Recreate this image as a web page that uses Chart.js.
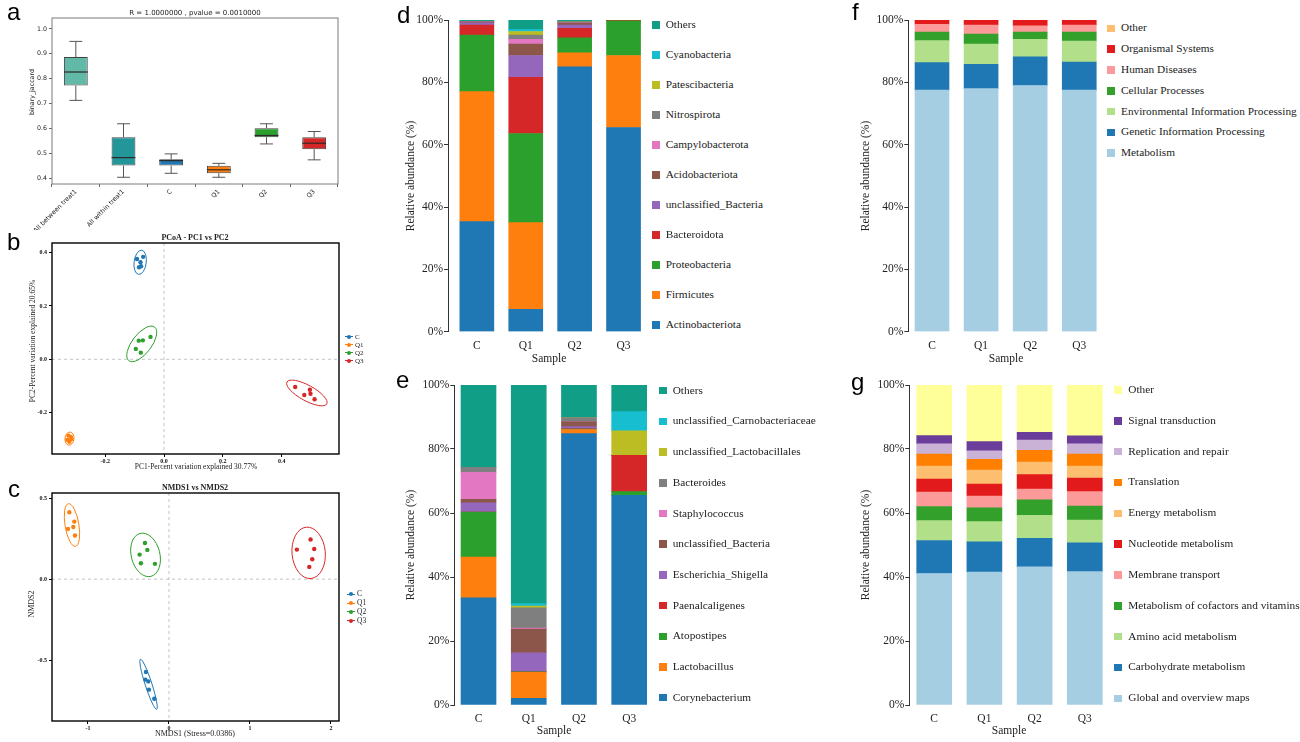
<!DOCTYPE html>
<html><head><meta charset="utf-8">
<script src="https://cdn.jsdelivr.net/npm/chart.js@4.4.1/dist/chart.umd.min.js"></script>
<style>
body{margin:0;background:#fff;}
#page{position:relative;width:1300px;height:742px;overflow:hidden;font-family:'Liberation Serif','Times New Roman',serif;color:#222;background:#fff;}
.box{position:absolute;}
.txt{position:absolute;white-space:nowrap;line-height:1;}
.lt{position:absolute;font-family:'Liberation Sans',Arial,sans-serif;font-size:24px;line-height:24px;color:#000;}
</style></head><body><div id="page">
<div class="box" style="left:0;top:0;width:345px;height:230px"><canvas id="ca"></canvas></div>
<div class="box" style="left:0;top:228px;width:345px;height:245px"><canvas id="cb"></canvas></div>
<div class="box" style="left:0;top:478px;width:345px;height:264px"><canvas id="cc"></canvas></div>
<div class="box" style="left:395px;top:0;width:255px;height:370px"><canvas id="cd"></canvas></div>
<div class="box" style="left:395px;top:370px;width:262px;height:372px"><canvas id="ce"></canvas></div>
<div class="box" style="left:850px;top:0;width:256px;height:370px"><canvas id="cf"></canvas></div>
<div class="box" style="left:850px;top:370px;width:262px;height:372px"><canvas id="cg"></canvas></div>
</div>
<script>
// ---------------- DATA ----------------
const samples = ['C', 'Q1', 'Q2', 'Q3'];

// panel a: ANOSIM boxplot (binary_jaccard)
const boxCats = ['All between treat1', 'All within treat1', 'C', 'Q1', 'Q2', 'Q3'];
const boxMin = [0.713, 0.404, 0.420, 0.404, 0.538, 0.474];
const boxQ1  = [0.773, 0.451, 0.451, 0.420, 0.565, 0.517];
const boxMed = [0.827, 0.483, 0.471, 0.434, 0.572, 0.541];
const boxQ3  = [0.887, 0.565, 0.476, 0.450, 0.601, 0.565];
const boxMax = [0.950, 0.619, 0.498, 0.460, 0.619, 0.588];
const boxYTicks = [0.4, 0.5, 0.6, 0.7, 0.8, 0.9, 1.0];

// panel b: PCoA
const pcoaCx  = [-0.092, -0.071, -0.080, -0.085, -0.078];
const pcoaCy  = [0.376, 0.384, 0.364, 0.345, 0.349];
const pcoaQ1x = [-0.325, -0.317, -0.329, -0.315, -0.322];
const pcoaQ1y = [-0.286, -0.291, -0.302, -0.299, -0.309];
const pcoaQ2x = [-0.046, -0.072, -0.086, -0.096, -0.079];
const pcoaQ2y = [0.084, 0.071, 0.070, 0.039, 0.025];
const pcoaQ3x = [0.446, 0.496, 0.477, 0.498, 0.512];
const pcoaQ3y = [-0.104, -0.114, -0.134, -0.129, -0.150];
const pcoaTicks = [-0.2, 0.0, 0.2, 0.4];

// panel c: NMDS
const nmdsCx  = [-0.284, -0.292, -0.255, -0.247, -0.181];
const nmdsCy  = [-0.574, -0.621, -0.632, -0.683, -0.739];
const nmdsQ1x = [-1.230, -1.169, -1.181, -1.247, -1.160];
const nmdsQ1y = [0.414, 0.356, 0.323, 0.311, 0.270];
const nmdsQ2x = [-0.296, -0.267, -0.362, -0.346, -0.173];
const nmdsQ2y = [0.224, 0.181, 0.152, 0.099, 0.095];
const nmdsQ3x = [1.749, 1.580, 1.794, 1.770, 1.733];
const nmdsQ3y = [0.245, 0.183, 0.187, 0.123, 0.076];
const nmdsXTicks = [-1, 0, 1, 2];
const nmdsYTicks = [-0.5, 0.0, 0.5];

// panel d: phylum relative abundance (%), bottom -> top
const phylumNames = ['Actinobacteriota', 'Firmicutes', 'Proteobacteria', 'Bacteroidota', 'unclassified_Bacteria', 'Acidobacteriota', 'Campylobacterota', 'Nitrospirota', 'Patescibacteria', 'Cyanobacteria', 'Others'];
const phylumC  = [35.3, 41.7, 18.2, 3.2, 0.7, 0.3, 0.1, 0.1, 0.0, 0.0, 0.4];
const phylumQ1 = [7.2, 27.8, 28.6, 18.0, 7.0, 3.7, 1.5, 1.4, 1.1, 0.7, 3.0];
const phylumQ2 = [85.0, 4.5, 4.8, 3.0, 1.1, 0.7, 0.1, 0.3, 0.0, 0.0, 0.5];
const phylumQ3 = [65.5, 23.1, 11.1, 0.2, 0.0, 0.0, 0.0, 0.0, 0.0, 0.0, 0.1];

// panel e: genus relative abundance (%), bottom -> top
const genusNames = ['Corynebacterium', 'Lactobacillus', 'Atopostipes', 'Paenalcaligenes', 'Escherichia_Shigella', 'unclassified_Bacteria', 'Staphylococcus', 'Bacteroides', 'unclassified_Lactobacillales', 'unclassified_Carnobacteriaceae', 'Others'];
const genusC  = [33.5, 12.7, 14.1, 0.0, 2.9, 1.1, 8.4, 1.6, 0.0, 0.0, 25.7];
const genusQ1 = [2.1, 8.1, 0.2, 0.0, 5.9, 7.4, 0.3, 6.4, 0.5, 0.8, 68.3];
const genusQ2 = [84.8, 1.3, 0.1, 0.1, 0.7, 1.5, 0.0, 1.3, 0.0, 0.0, 10.2];
const genusQ3 = [65.5, 0.0, 1.2, 11.3, 0.0, 0.0, 0.0, 0.0, 7.7, 6.0, 8.3];

// panel f: KEGG level 1 (%), bottom -> top
const kegg1Names = ['Metabolism', 'Genetic Information Processing', 'Environmental Information Processing', 'Cellular Processes', 'Human Diseases', 'Organismal Systems', 'Other'];
const kegg1C  = [77.5, 8.8, 7.1, 2.7, 2.5, 1.3, 0.1];
const kegg1Q1 = [78.0, 7.8, 6.5, 3.2, 2.9, 1.5, 0.1];
const kegg1Q2 = [79.0, 9.2, 5.6, 2.3, 2.0, 1.8, 0.1];
const kegg1Q3 = [77.5, 9.0, 6.7, 2.9, 2.3, 1.5, 0.1];

// panel g: KEGG level 2 (%), bottom -> top
const kegg2Names = ['Global and overview maps', 'Carbohydrate metabolism', 'Amino acid metabolism', 'Metabolism of cofactors and vitamins', 'Membrane transport', 'Nucleotide metabolism', 'Energy metabolism', 'Translation', 'Replication and repair', 'Signal transduction', 'Other'];
const kegg2C  = [41.1, 10.3, 6.2, 4.4, 4.5, 4.1, 4.1, 3.7, 3.2, 2.6, 15.8];
const kegg2Q1 = [41.5, 9.5, 6.3, 4.3, 3.7, 3.7, 4.4, 3.4, 2.6, 2.9, 17.7];
const kegg2Q2 = [43.2, 8.9, 7.2, 4.8, 3.4, 4.5, 3.9, 3.7, 3.2, 2.4, 14.8];
const kegg2Q3 = [41.7, 9.0, 7.1, 4.4, 4.5, 4.2, 3.8, 3.7, 3.2, 2.5, 15.9];
const pctTicks = [0, 20, 40, 60, 80, 100];

// ---------------- STYLES ----------------
const groupColors = ['#1f77b4', '#ff7f0e', '#2ca02c', '#d62728'];
const boxColors = ['#62b9a8', '#23969a', '#1f77b4', '#ff7f0e', '#2ca02c', '#d62728'];
const tabColors = ['#1f77b4', '#ff7f0e', '#2ca02c', '#d62728', '#9467bd', '#8c564b', '#e377c2', '#7f7f7f', '#bcbd22', '#17becf', '#109e86'];
const kegg1Colors = ['#a6cee3', '#1f78b4', '#b2df8a', '#33a02c', '#fb9a99', '#e31a1c', '#fdbf6f'];
const kegg2Colors = ['#a6cee3', '#1f78b4', '#b2df8a', '#33a02c', '#fb9a99', '#e31a1c', '#fdbf6f', '#ff7f00', '#cab2d6', '#6a3d9a', '#ffff99'];

Chart.defaults.animation = false;
Chart.defaults.font.family = "'Liberation Serif','Times New Roman',serif";
Chart.defaults.color = '#222';
Chart.defaults.plugins.legend.display = false;
Chart.defaults.plugins.tooltip.enabled = false;
Chart.defaults.responsive = true;
Chart.defaults.maintainAspectRatio = false;

const page = document.getElementById('page');
function addText(t, x, y, o) {
  o = o || {};
  const d = document.createElement('div');
  d.className = 'txt';
  d.textContent = t;
  d.style.left = x + 'px';
  d.style.top = y + 'px';
  d.style.fontSize = (o.size || 11) + 'px';
  if (o.family) d.style.fontFamily = o.family;
  if (o.weight) d.style.fontWeight = o.weight;
  if (o.color) d.style.color = o.color;
  const ax = o.align === 'left' ? '0' : '-50%';
  d.style.transform = 'translate(' + ax + ',-50%)';
  if (o.rotate) { d.style.transformOrigin = '0 0'; d.style.transform = 'rotate(' + o.rotate + 'deg) translate(-50%,-50%)'; }
  page.appendChild(d);
  return d;
}
function letter(t, x, y) {
  const d = document.createElement('div');
  d.className = 'lt'; d.textContent = t;
  d.style.left = x + 'px'; d.style.top = y + 'px';
  page.appendChild(d);
}

// ---------------- PLUGINS ----------------
const framePlugin = {
  id: 'frame',
  afterDraw(chart, args, opts) {
    const a = chart.chartArea, c = chart.ctx;
    c.save(); c.strokeStyle = opts.color || '#000'; c.lineWidth = opts.width || 1;
    c.strokeRect(a.left, a.top, a.right - a.left, a.bottom - a.top);
    c.restore();
  }
};
const zeroPlugin = {
  id: 'zero',
  beforeDatasetsDraw(chart) {
    const ctx = chart.ctx, a = chart.chartArea, x = chart.scales.x, y = chart.scales.y;
    const px = x.getPixelForValue(0), py = y.getPixelForValue(0);
    ctx.save(); ctx.setLineDash([3, 3]); ctx.strokeStyle = '#bdbdbd'; ctx.lineWidth = 0.9;
    ctx.beginPath(); ctx.moveTo(px, a.top); ctx.lineTo(px, a.bottom);
    ctx.moveTo(a.left, py); ctx.lineTo(a.right, py); ctx.stroke(); ctx.restore();
  }
};
const ellipsePlugin = {
  id: 'ellipse',
  afterDatasetsDraw(chart, args, opts) {
    const ctx = chart.ctx, x = chart.scales.x, y = chart.scales.y;
    chart.data.datasets.forEach(ds => {
      const pts = ds.data.map(p => [x.getPixelForValue(p.x), y.getPixelForValue(p.y)]);
      const n = pts.length;
      const mx = pts.reduce((s, p) => s + p[0], 0) / n;
      const my = pts.reduce((s, p) => s + p[1], 0) / n;
      let sxx = 0, syy = 0, sxy = 0;
      pts.forEach(p => { const dx = p[0] - mx, dy = p[1] - my; sxx += dx * dx; syy += dy * dy; sxy += dx * dy; });
      sxx /= (n - 1); syy /= (n - 1); sxy /= (n - 1);
      const T = (sxx + syy) / 2, D = Math.sqrt(((sxx - syy) / 2) ** 2 + sxy * sxy);
      const l1 = T + D, l2 = Math.max(T - D, 0.5);
      const ang = 0.5 * Math.atan2(2 * sxy, sxx - syy);
      ctx.save(); ctx.strokeStyle = ds.backgroundColor; ctx.lineWidth = 1;
      ctx.beginPath(); ctx.ellipse(mx, my, opts.k * Math.sqrt(l1), opts.k * Math.sqrt(l2), ang, 0, 2 * Math.PI);
      ctx.stroke(); ctx.restore();
    });
  }
};
const boxPlugin = {
  id: 'boxwhisk',
  afterDatasetsDraw(chart) {
    const ctx = chart.ctx, y = chart.scales.y;
    const meta = chart.getDatasetMeta(0);
    ctx.save();
    meta.data.forEach((bar, i) => {
      const x = bar.x, w = bar.width;
      const pMin = y.getPixelForValue(boxMin[i]), pMax = y.getPixelForValue(boxMax[i]);
      const pQ1 = y.getPixelForValue(boxQ1[i]), pQ3 = y.getPixelForValue(boxQ3[i]), pMed = y.getPixelForValue(boxMed[i]);
      ctx.strokeStyle = '#555'; ctx.lineWidth = 1;
      ctx.beginPath();
      ctx.moveTo(x, pQ3); ctx.lineTo(x, pMax); ctx.moveTo(x, pQ1); ctx.lineTo(x, pMin);
      ctx.moveTo(x - w * 0.27, pMax); ctx.lineTo(x + w * 0.27, pMax);
      ctx.moveTo(x - w * 0.27, pMin); ctx.lineTo(x + w * 0.27, pMin);
      ctx.stroke();
      ctx.strokeStyle = '#2a2a2a'; ctx.lineWidth = 1.2;
      ctx.beginPath(); ctx.moveTo(x - w / 2, pMed); ctx.lineTo(x + w / 2, pMed); ctx.stroke();
    });
    ctx.restore();
  }
};

// ---------------- PANEL A ----------------
new Chart(document.getElementById('ca'), {
  type: 'bar',
  data: {
    labels: boxCats,
    datasets: [{
      data: boxQ1.map((q, i) => [q, boxQ3[i]]),
      backgroundColor: boxColors, borderColor: '#444', borderWidth: 1, borderSkipped: false,
      barPercentage: 0.5, categoryPercentage: 1
    }]
  },
  options: {
    layout: { padding: { top: 18, right: 7, left: 0, bottom: 0 } },
    plugins: { frame: { color: '#7a7a7a', width: 1 } },
    scales: {
      x: {
        offset: true,
        grid: { drawOnChartArea: false, drawTicks: true, tickLength: 3, color: '#666' },
        border: { display: false },
        ticks: { font: { family: "'DejaVu Sans',sans-serif", size: 6.3 }, color: '#222', minRotation: 45, maxRotation: 45, autoSkip: false, padding: 1 },
        afterFit: s => { s.height = 46; }
      },
      y: {
        min: 0.377, max: 1.044,
        afterBuildTicks: s => { s.ticks = boxYTicks.map(v => ({ value: v })); },
        grid: { drawOnChartArea: false, drawTicks: true, tickLength: 3, color: '#666' },
        border: { display: false },
        ticks: { font: { family: "'DejaVu Sans',sans-serif", size: 6.3 }, color: '#222', padding: 2, callback: v => v.toFixed(1) },
        afterFit: s => { s.width = 52; }
      }
    }
  },
  plugins: [framePlugin, boxPlugin]
});
addText('R = 1.0000000 , pvalue = 0.0010000', 195, 13, { family: "'DejaVu Sans',sans-serif", size: 7 });
addText('binary_jaccard', 32, 92, { family: "'DejaVu Sans',sans-serif", size: 6.3, rotate: -90 });

// ---------------- SCATTER HELPERS ----------------
function pts(xs, ys) { return xs.map((v, i) => ({ x: v, y: ys[i] })); }
function scatterChart(id, sets, xr, yr, xt, yt, xfmt, yfmt, xh, k) {
  return new Chart(document.getElementById(id), {
    type: 'scatter',
    data: {
      datasets: sets.map((d, i) => ({
        label: samples[i], data: d, backgroundColor: groupColors[i], borderColor: groupColors[i],
        pointRadius: 2.2, pointBorderWidth: 0
      }))
    },
    options: {
      layout: { padding: { top: 15, right: 6, left: 0, bottom: 0 } },
      plugins: { frame: { color: '#000', width: 1.4 }, ellipse: { k: k } },
      scales: {
        x: {
          type: 'linear', min: xr[0], max: xr[1],
          afterBuildTicks: s => { s.ticks = xt.map(v => ({ value: v })); },
          grid: { drawOnChartArea: false, drawTicks: true, tickLength: 3, color: '#000' },
          border: { display: false },
          ticks: { font: { size: 6, weight: 'bold' }, color: '#111', padding: 1, callback: xfmt },
          afterFit: s => { s.height = xh; }
        },
        y: {
          type: 'linear', min: yr[0], max: yr[1],
          afterBuildTicks: s => { s.ticks = yt.map(v => ({ value: v })); },
          grid: { drawOnChartArea: false, drawTicks: true, tickLength: 3, color: '#000' },
          border: { display: false },
          ticks: { font: { size: 6, weight: 'bold' }, color: '#111', padding: 2, callback: yfmt },
          afterFit: s => { s.width = 52; }
        }
      }
    },
    plugins: [zeroPlugin, ellipsePlugin, framePlugin]
  });
}
function scatterLegend(x, y0, dy, size) {
  samples.forEach((s, i) => {
    const yy = y0 + i * dy;
    const ln = document.createElement('div');
    ln.style.cssText = 'position:absolute;left:' + (x - 4) + 'px;top:' + (yy - 0.5) + 'px;width:8px;height:1px;background:' + groupColors[i];
    page.appendChild(ln);
    const dot = document.createElement('div');
    dot.style.cssText = 'position:absolute;left:' + (x - 2) + 'px;top:' + (yy - 2) + 'px;width:4px;height:4px;border-radius:50%;background:' + groupColors[i];
    page.appendChild(dot);
    addText(s, x + 6, yy, { size: size, align: 'left' });
  });
}

// ---------------- PANEL B ----------------
scatterChart('cb', [pts(pcoaCx, pcoaCy), pts(pcoaQ1x, pcoaQ1y), pts(pcoaQ2x, pcoaQ2y), pts(pcoaQ3x, pcoaQ3y)],
  [-0.381, 0.595], [-0.355, 0.436], pcoaTicks, pcoaTicks, v => v.toFixed(1), v => v.toFixed(1), 19, 2.7);
addText('PCoA - PC1 vs PC2', 195, 238, { size: 8, weight: 'bold' });
addText('PC1-Percent variation explained 30.77%', 196, 466.5, { size: 7.5 });
addText('PC2-Percent variation explained 20.65%', 33, 341, { size: 7.5, rotate: -90 });
scatterLegend(349, 336.5, 8.1, 7);

// ---------------- PANEL C ----------------
scatterChart('cc', [pts(nmdsCx, nmdsCy), pts(nmdsQ1x, nmdsQ1y), pts(nmdsQ2x, nmdsQ2y), pts(nmdsQ3x, nmdsQ3y)],
  [-1.444, 2.10], [-0.877, 0.533], nmdsXTicks, nmdsYTicks, v => String(v), v => v.toFixed(1), 21, 2.45);
addText('NMDS1 vs NMDS2', 195, 488, { size: 8, weight: 'bold' });
addText('NMDS1 (Stress=0.0386)', 195, 733.5, { size: 8 });
addText('NMDS2', 32, 604, { size: 8, rotate: -90 });
scatterLegend(351, 594.3, 8.8, 7.5);

// ---------------- STACKED BAR HELPERS ----------------
function stackChart(id, names, colors, rows, xmin, thick, yw, xh, padTop, padRight) {
  return new Chart(document.getElementById(id), {
    type: 'bar',
    data: {
      datasets: names.map((n, j) => ({
        label: n,
        data: rows.map((r, i) => ({ x: i, y: r[j] })),
        backgroundColor: colors[j], borderWidth: 0, barThickness: thick
      }))
    },
    options: {
      layout: { padding: { top: padTop, right: padRight, left: 0, bottom: 0 } },
      scales: {
        x: {
          type: 'linear', stacked: true, min: xmin, max: 3.5, offset: false,
          afterBuildTicks: s => { s.ticks = samples.map((_, i) => ({ value: i })); },
          grid: { display: false, drawTicks: false },
          border: { display: false },
          ticks: { font: { size: 11.5 }, color: '#222', padding: 7, callback: v => samples[v] },
          afterFit: s => { s.height = xh; }
        },
        y: {
          stacked: true, min: 0, max: 100,
          afterBuildTicks: s => { s.ticks = pctTicks.map(v => ({ value: v })); },
          grid: { drawOnChartArea: false, drawTicks: true, tickLength: 4, color: '#333' },
          border: { display: true, color: '#333', width: 1 },
          ticks: { font: { size: 11.5 }, color: '#222', padding: 1, callback: v => v + '%' },
          afterFit: s => { s.width = yw; }
        }
      }
    }
  });
}
function barLegend(names, colors, sqLeft, txtLeft, y0, dy) {
  const n = names.length;
  for (let k = 0; k < n; k++) {
    const j = n - 1 - k;
    const yy = y0 + k * dy;
    const sq = document.createElement('div');
    sq.style.cssText = 'position:absolute;left:' + sqLeft + 'px;top:' + (yy - 3.8) + 'px;width:7.6px;height:7.6px;background:' + colors[j];
    page.appendChild(sq);
    addText(names[j], txtLeft, yy, { size: 11.3, align: 'left' });
  }
}

// ---------------- PANEL D ----------------
stackChart('cd', phylumNames, tabColors, [phylumC, phylumQ1, phylumQ2, phylumQ3], -0.59, 34, 53, 38.3, 20, 2);
barLegend(phylumNames, tabColors, 652.3, 665.7, 25, 30);
addText('Relative abundance (%)', 411, 176, { size: 11.5, rotate: -90 });
addText('Sample', 549, 359, { size: 11.5 });

// ---------------- PANEL E ----------------
stackChart('ce', genusNames, tabColors, [genusC, genusQ1, genusQ2, genusQ3], -0.482, 35, 59.3, 37, 15, 2.7);
barLegend(genusNames, tabColors, 659, 672.7, 390.7, 30.7);
addText('Relative abundance (%)', 411, 545, { size: 11.5, rotate: -90 });
addText('Sample', 554, 731, { size: 11.5 });

// ---------------- PANEL F ----------------
stackChart('cf', kegg1Names, kegg1Colors, [kegg1C, kegg1Q1, kegg1Q2, kegg1Q3], -0.483, 34, 58.3, 38.3, 20, 2.2);
barLegend(kegg1Names, kegg1Colors, 1107.3, 1121, 28.3, 20.83);
addText('Relative abundance (%)', 866, 176, { size: 11.5, rotate: -90 });
addText('Sample', 1006, 359, { size: 11.5 });

// ---------------- PANEL G ----------------
stackChart('cg', kegg2Names, kegg2Colors, [kegg2C, kegg2Q1, kegg2Q2, kegg2Q3], -0.496, 35, 59.3, 37, 15, 2.1);
barLegend(kegg2Names, kegg2Colors, 1114.3, 1128.3, 390, 30.83);
addText('Relative abundance (%)', 866, 545, { size: 11.5, rotate: -90 });
addText('Sample', 1009, 731, { size: 11.5 });

// ---------------- PANEL LETTERS ----------------
letter('a', 7, 0); letter('b', 7, 230); letter('c', 8, 477);
letter('d', 397, 3); letter('e', 396, 368); letter('f', 852, 0); letter('g', 851, 370);
</script>
</body></html>
